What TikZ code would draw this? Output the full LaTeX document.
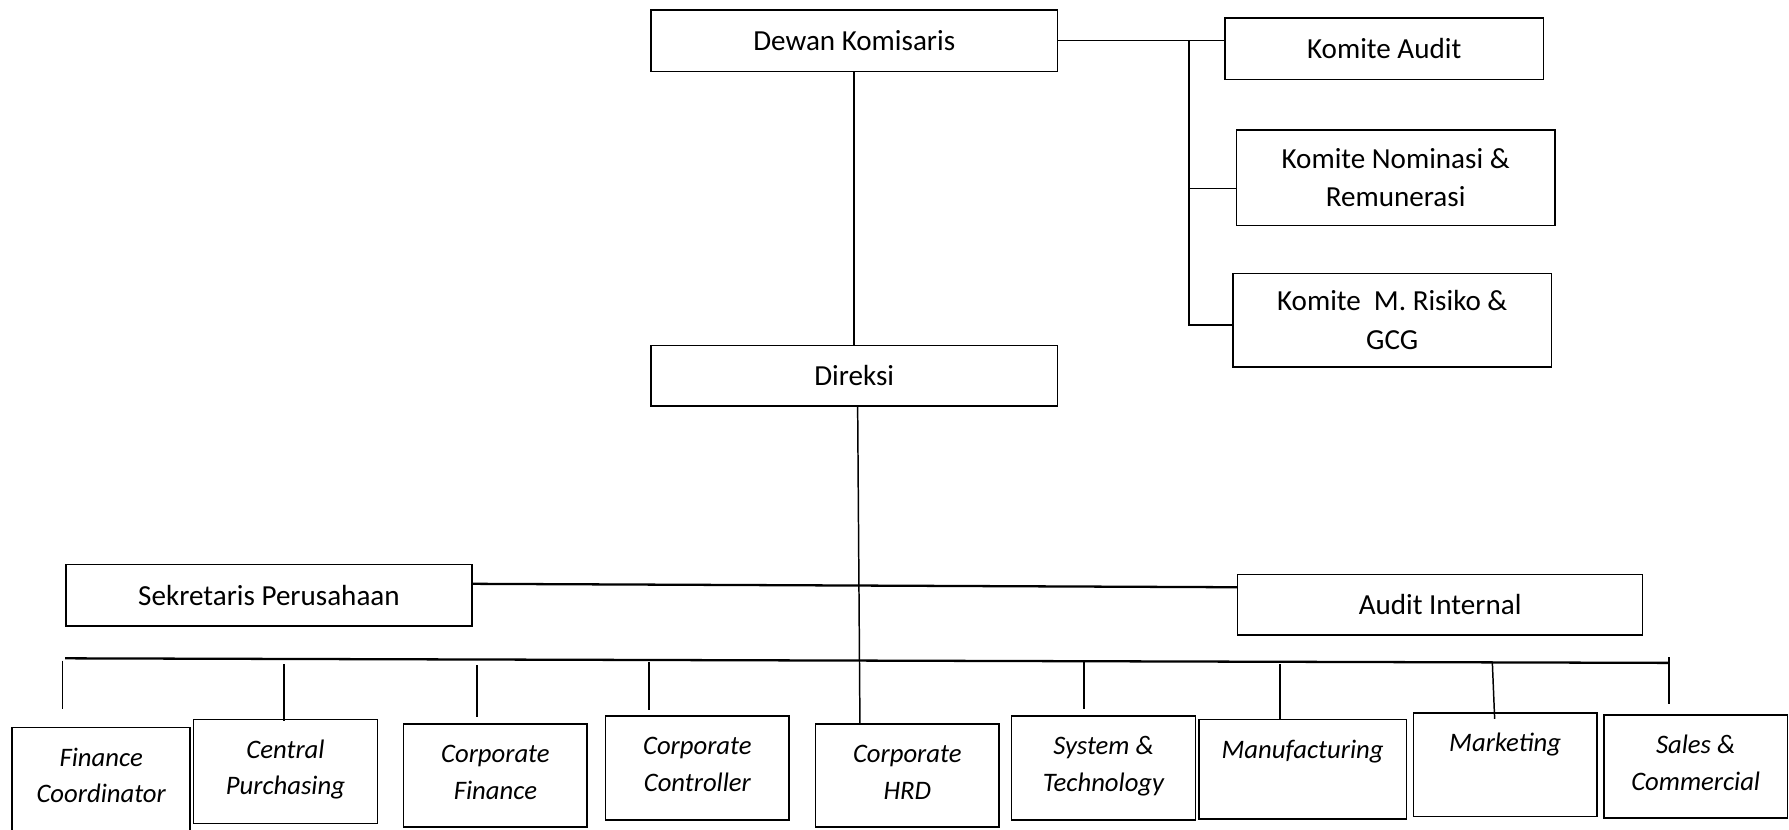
\documentclass[tikz,border=0pt]{standalone}
\usepackage{fontspec}
\setmainfont{Carlito}
\begin{document}
\begin{tikzpicture}[x=1pt,y=-1pt,
  box/.style={draw, line width=1.4pt, inner sep=0pt, anchor=north west},
  lbl/.style={font=\fontsize{25.5}{34}\selectfont, align=center},
  ilbl/.style={font=\fontsize{23.4}{32}\selectfont\itshape, align=center, inner sep=0pt, anchor=north},
  conn/.style={line width=1.3pt},
  heavy/.style={line width=2pt}]
\useasboundingbox (0,0) rectangle (1568,727);
% top level
\node[box, lbl, minimum width=356pt, minimum height=54pt] (dk) at (570,8) {Dewan Komisaris};
\node[box, lbl, minimum width=279pt, minimum height=54pt] (ka) at (1073,15) {Komite Audit};
\node[box, lbl, minimum width=279pt, minimum height=84pt] (kn) at (1083,113) {Komite Nominasi \&\\ Remunerasi};
\node[box, lbl, minimum width=279pt, minimum height=82pt] (kr) at (1080,239) {Komite~~M. Risiko \&\\ GCG};
\node[box, lbl, minimum width=356pt, minimum height=53pt] (dir) at (570,302) {Direksi};
\node[box, lbl, minimum width=356pt, minimum height=54pt] (sp) at (57,494) {Sekretaris Perusahaan};
\node[box, lbl, minimum width=355pt, minimum height=53pt] (ai) at (1084,503) {Audit Internal};
% bottom boxes
\node[box, minimum width=156pt, minimum height=110pt] (fc) at (10,637) {};
\node[box, minimum width=161pt, minimum height=91pt] (cp) at (169,630) {};
\node[box, minimum width=161pt, minimum height=90pt] (cf) at (353,634) {};
\node[box, minimum width=161pt, minimum height=91pt] (cc) at (530,627) {};
\node[box, minimum width=161pt, minimum height=90pt] (hrd) at (714,634) {};
\node[box, minimum width=161pt, minimum height=91pt] (st) at (886,627) {};
\node[box, minimum width=182pt, minimum height=87pt] (mf) at (1050,630) {};
\node[box, minimum width=161pt, minimum height=91pt] (mk) at (1238,624) {};
\node[box, minimum width=161pt, minimum height=90pt] (sc) at (1405,626) {};
\node[ilbl] (fct) at ([yshift=-12pt]fc.north) {\strut Finance\\ Coordinator};
\node[ilbl] (cpt) at ([yshift=-12pt]cp.north) {\strut Central\\ Purchasing};
\node[ilbl] (cft) at ([yshift=-12pt]cf.north) {\strut Corporate\\ Finance};
\node[ilbl] (cct) at ([yshift=-12pt]cc.north) {\strut Corporate\\ Controller};
\node[ilbl] (hrdt) at ([yshift=-12pt]hrd.north) {\strut Corporate\\ HRD};
\node[ilbl] (stt) at ([yshift=-12pt]st.north) {\strut System \&\\ Technology};
\node[ilbl] (mft) at ([yshift=-12pt]mf.north) {\strut Manufacturing};
\node[ilbl] (mkt) at ([yshift=-12pt]mk.north) {\strut Marketing};
\node[ilbl] (sct) at ([yshift=-12pt]sc.north) {\strut Sales \&\\ Commercial};
% connectors
\draw[conn] (dk.east) -- (dk.east -| ka.west);
\coordinate (s1) at (1042,36);
\coordinate (s2) at (1042,165);
\coordinate (s3) at (1042,285);
\draw[heavy] (s1) -- (s2);
\draw[conn] (s2) -- (s2 -| kn.west);
\draw[conn] (s2) -- (s3) -- (s3 -| kr.west);
\draw[conn] (dk.south) -- (dir.north);
\draw[conn] ([xshift=3pt]dir.south) -- ([xshift=5pt]dir.south |- hrd.north);
\draw[heavy] ([yshift=10pt]sp.east) -- ([yshift=15.5pt]ai.west);
\coordinate (busL) at (57,577);
\coordinate (busR) at (1463,581);
\draw[heavy] (busL) -- (busR);
\foreach \i/\xa/\ya/\xb/\yb in {1/55/579/55/621, 2/249/582/249/632, 3/418/583/418/628,
  4/569/580/569/622, 5/950/580/950/621, 6/1122/582/1122/631, 7/1308/581/1310/630, 8/1463/576/1463/617}{
  \coordinate (dt\i) at (\xa,\ya);
  \coordinate (db\i) at (\xb,\yb);
  \draw[conn] (dt\i) -- (db\i);
}
\end{tikzpicture}
\end{document}
